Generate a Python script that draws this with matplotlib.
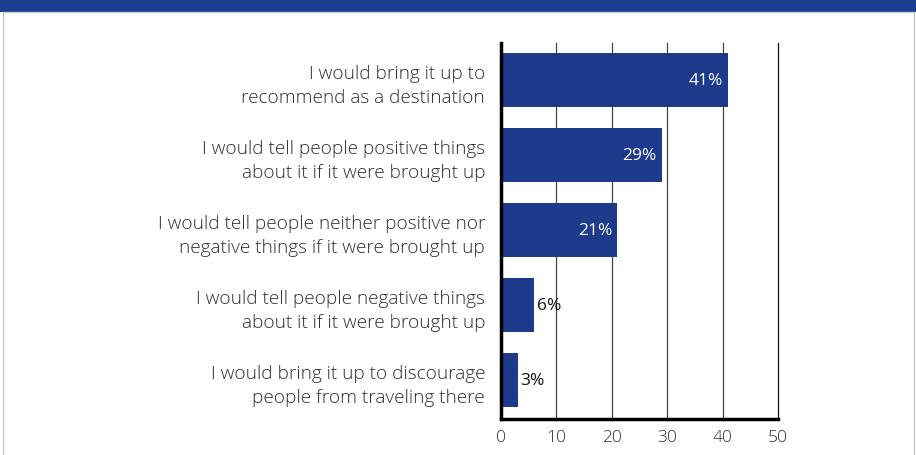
import matplotlib.pyplot as plt
from matplotlib.patches import Rectangle

plt.rcParams['font.family'] = ['Open Sans', 'DejaVu Sans']

# data
categories = [
    'I would bring it up to\nrecommend as a destination',
    'I would tell people positive things\nabout it if it were brought up',
    'I would tell people neither positive nor\nnegative things if it were brought up',
    'I would tell people negative things\nabout it if it were brought up',
    'I would bring it up to discourage\npeople from traveling there',
]
values = [41, 29, 21, 6, 3]
ticks = [0, 10, 20, 30, 40, 50]

navy = '#1d3a8c'
text_col = '#2e2e2e'

fig = plt.figure(figsize=(9.16, 4.56), dpi=100)

# header band and side frame
fig.patches.append(Rectangle((0, 1 - 12.5 / 456), 1, 12.5 / 456, transform=fig.transFigure,
                             facecolor='#1c3d8f', edgecolor='none'))
fig.patches.append(Rectangle((2.5 / 916, -0.01), (911 / 916), 1 - 12.5 / 456 + 0.01,
                             transform=fig.transFigure, facecolor='none',
                             edgecolor='#c8c8c8', linewidth=1))

ax = fig.add_axes([501 / 916, 1 - 420 / 456, 277 / 916, 376 / 456])
y = list(range(len(categories)))
ax.barh(y, values, height=0.72, color=navy, zorder=3)

ax.set_xlim(0, 50)
ax.set_ylim(4.52, -0.493)
ax.set_xticks(ticks)
ax.set_xticklabels([str(t) for t in ticks], fontsize=12.5, color=text_col, fontweight='light')
ax.tick_params(axis='x', length=0, pad=7)
ax.set_yticks(y)
ax.set_yticklabels(categories, fontsize=13.7, color=text_col, linespacing=1.45,
                   fontweight='light')
ax.tick_params(axis='y', length=0, pad=11.5)

for t in ticks[1:]:
    ax.axvline(t, color='#444444' if t < 50 else '#111111', linewidth=0.9,
               zorder=1, clip_on=False)

for s in ['top', 'right']:
    ax.spines[s].set_visible(False)
ax.spines['left'].set_linewidth(2.5)
ax.spines['bottom'].set_linewidth(2.5)
ax.spines['left'].set_zorder(4)

for yi, v in zip(y, values):
    if v > 10:
        ax.text(v - 0.9, yi, f'{v}%', color='white', fontsize=12.5, ha='right', va='center',
                zorder=5)
    else:
        ax.text(v + 0.5, yi, f'{v}%', color='#111111', fontsize=12.5, ha='left', va='center',
                zorder=5)

fig.savefig('out.png', dpi=100)
